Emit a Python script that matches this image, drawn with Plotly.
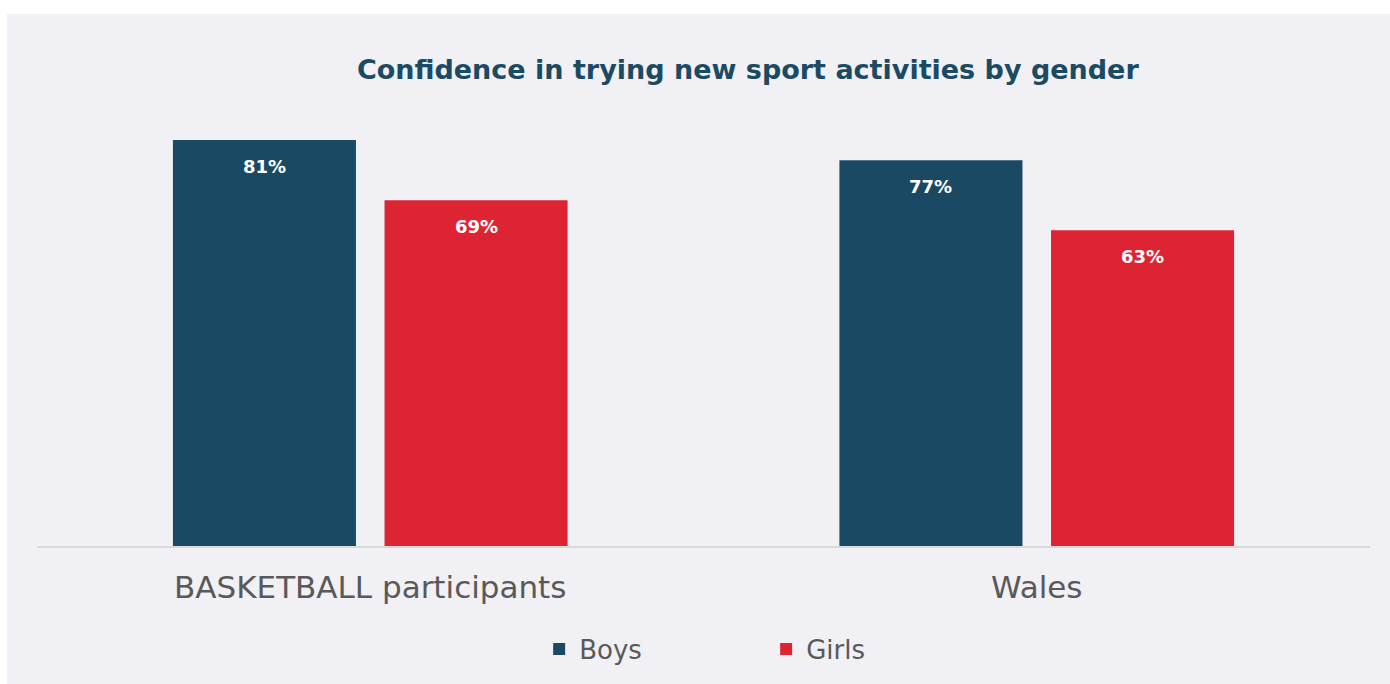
import plotly.graph_objects as go

# data
categories = ["BASKETBALL participants", "Wales"]
boys = [81, 77]
girls = [69, 63]
series_names = ["Boys", "Girls"]

BOYS_COLOR = "#1a4a63"
GIRLS_COLOR = "#de2432"
BG = "#f0f0f5"
FONT = "DejaVu Sans"

fig = go.Figure()
for name, vals, color in zip(series_names, [boys, girls], [BOYS_COLOR, GIRLS_COLOR]):
    fig.add_trace(go.Bar(
        x=categories,
        y=vals,
        name=name,
        marker=dict(color=color, line=dict(width=0)),
        hoverinfo="skip",
    ))

# value labels just inside the top of each bar
for vals, shift in [(boys, -106), (girls, 106)]:
    for cat, v in zip(categories, vals):
        fig.add_annotation(
            x=cat, y=v, text=f"<b>{v}%</b>", showarrow=False,
            xshift=shift, yshift=-26,
            font=dict(family=FONT, size=18, color="white"),
        )

# thin white strips along the top and left of the grey card
fig.add_shape(
    type="rect", xref="paper", yref="paper", layer="below",
    x0=-0.1, x1=1.1, y0=1.1928, y1=1.3,
    fillcolor="white", line=dict(width=0),
)
fig.add_shape(
    type="rect", xref="paper", yref="paper", layer="below",
    x0=-0.04, x1=-0.0225, y0=-0.5, y1=1.3,
    fillcolor="white", line=dict(width=0),
)

fig.update_layout(
    width=1390,
    height=684,
    margin=dict(l=37, r=20, t=100, b=138),
    paper_bgcolor=BG,
    plot_bgcolor="rgba(0,0,0,0)",
    title=dict(
        text="<b>Confidence in trying new sport activities by gender</b>",
        x=0.538, xanchor="center", y=0.8977, yanchor="middle",
        font=dict(family=FONT, size=27, color="#1b4a63"),
    ),
    barmode="group",
    bargap=0.365,
    bargroupgap=0.135,
    showlegend=True,
    legend=dict(
        orientation="h", x=0.547, xanchor="center", y=-0.231, yanchor="middle",
        font=dict(family=FONT, size=26, color="#595959"),
        entrywidth=182, bgcolor="rgba(0,0,0,0)",
    ),
    xaxis=dict(
        showline=True, linecolor="#d9d9d9", linewidth=1.5,
        ticks="", showgrid=False, ticklabelstandoff=13,
        tickfont=dict(family=FONT, size=31, color="#595959"),
    ),
    yaxis=dict(range=[0, 89], visible=False, showgrid=False),
)

# no page margin or scrollbars, so the figure fills the window exactly
fig.write_html(
    "out.html",
    config={"displayModeBar": False},
    post_script="document.body.style.margin='0';document.body.style.overflow='hidden';",
)
